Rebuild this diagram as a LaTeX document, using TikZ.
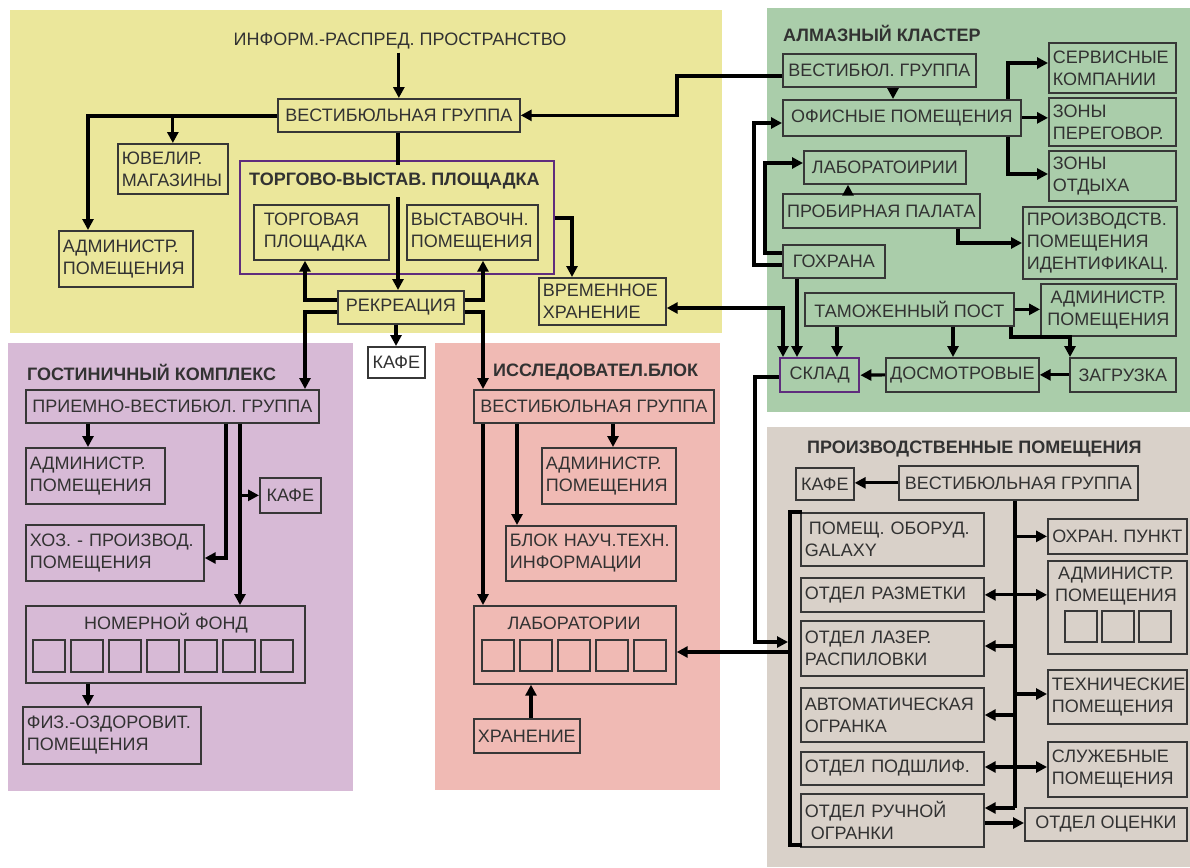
\documentclass[tikz,border=0pt]{standalone}
\usepackage{fontspec}
\setmainfont{Liberation Sans}
\usetikzlibrary{arrows.meta,calc}
\definecolor{ybg}{RGB}{235,231,155}
\definecolor{gbg}{RGB}{170,205,170}
\definecolor{pbg}{RGB}{215,186,214}
\definecolor{rbg}{RGB}{240,186,180}
\definecolor{sbg}{RGB}{217,209,201}
\definecolor{purp}{RGB}{95,45,125}
\definecolor{txt}{RGB}{50,50,50}
\definecolor{boxc}{RGB}{55,55,55}
\newcommand\fs{\fontsize{18}{22}\selectfont}
\newcommand\bx[7][]{%
  \pgfmathsetmacro\bxw{#5-#3}\pgfmathsetmacro\bxh{#6-#4}\pgfmathsetmacro\bxt{#5-#3-8}%
  \node[box,#1,anchor=north west,minimum width=\bxw pt,minimum height=\bxh pt,text width=\bxt pt] (#2) at (#3,#4) {#7};}
\newcommand\bc[7][]{%
  \pgfmathsetmacro\bxw{#5-#3}\pgfmathsetmacro\bxh{#6-#4}%
  \node[box,align=center,#1,inner xsep=1pt,anchor=north west,minimum width=\bxw pt,minimum height=\bxh pt] (#2) at (#3,#4) {#7};}
\tikzset{
  box/.style={draw=boxc,line width=1.7pt,inner xsep=4pt,inner ysep=2pt,font=\fs,text=txt,align=left},
  ttl/.style={font=\bfseries\fs,text=txt,anchor=west,inner sep=0pt},
  arr/.style={line width=3.2pt,black,-{Triangle[length=11pt,width=11pt]}},
  arrb/.style={line width=3.2pt,black,{Triangle[length=11pt,width=11pt]}-{Triangle[length=11pt,width=11pt]}},
  ln/.style={line width=3.2pt,black},
  sq/.style={draw=boxc,line width=1.7pt}
}
\begin{document}
\begin{tikzpicture}[x=1pt,y=-1pt]
\useasboundingbox (0,0) rectangle (1190,867);
\fill[white] (0,0) rectangle (1190,867);
% regions
\fill[ybg] (10,10) rectangle (722,333);
\fill[gbg] (767,8) rectangle (1190,412);
\fill[pbg] (8,343) rectangle (353,791);
\fill[rbg] (435,343) rectangle (720,790);
\fill[sbg] (767,427) rectangle (1190,867);

% ---------- yellow ----------
\node[font=\fs,text=txt] (info) at (400,41) {ИНФОРМ.-РАСПРЕД. ПРОСТРАНСТВО};
\bc{vy}{277}{98}{519}{131}{ВЕСТИБЮЛЬНАЯ ГРУППА}
\bx{yj}{117}{143}{227}{193}{ЮВЕЛИР.\\МАГАЗИНЫ}
\bx{ya}{58}{230}{192}{286}{АДМИНИСТР.\\ПОМЕЩЕНИЯ}
\node[draw=purp,line width=2.4pt,anchor=north west,minimum width=314pt,minimum height=113pt,inner sep=0pt] (tvp) at (239,160) {};
\bx{tp}{253}{204}{388}{259}{\hspace{6pt}ТОРГОВАЯ\\\hspace{6pt}ПЛОЩАДКА}
\bx{vp}{406}{204}{537}{259}{ВЫСТАВОЧН.\\ПОМЕЩЕНИЯ}
\bc{rek}{337}{290}{463}{323}{РЕКРЕАЦИЯ}
\bc{kafe}{367}{346}{424}{377}{КАФЕ}
\bx{vr}{538}{277}{665}{324}{ВРЕМЕННОЕ\\ХРАНЕНИЕ}

% ---------- green ----------
\node[ttl] (gt) at (783,33) {АЛМАЗНЫЙ КЛАСТЕР};
\bc{av}{782}{53}{975}{86}{ВЕСТИБЮЛ. ГРУППА}
\bc{of}{782}{99}{1020}{135}{ОФИСНЫЕ ПОМЕЩЕНИЯ}
\bx{sk}{1048}{42}{1175}{92}{СЕРВИСНЫЕ\\КОМПАНИИ}
\bx{zp}{1048}{97}{1175}{145}{ЗОНЫ\\ПЕРЕГОВОР.}
\bx{zo}{1048}{150}{1175}{200}{ЗОНЫ\\ОТДЫХА}
\bc{la}{803}{150}{965}{183}{ЛАБОРАТОИРИИ}
\bc{pp}{782}{193}{979}{227}{ПРОБИРНАЯ ПАЛАТА}
\bx{pi}{1022}{206}{1176}{278}{ПРОИЗВОДСТВ.\\ПОМЕЩЕНИЯ\\ИДЕНТИФИКАЦ.}
\bc{go}{782}{244}{884}{277}{ГОХРАНА}
\bc{tm}{804}{292}{1013}{325}{ТАМОЖЕННЫЙ ПОСТ}
\bc{ag}{1040}{283}{1175}{335}{АДМИНИСТР.\\ПОМЕЩЕНИЯ}
\bc[draw=purp,line width=2.4pt]{skl}{779}{357}{858}{391}{СКЛАД}
\bc{ds}{885}{357}{1038}{391}{ДОСМОТРОВЫЕ}
\bc{zg}{1069}{357}{1175}{391}{ЗАГРУЗКА}

% ---------- gray ----------
\node[ttl] (st) at (807,449) {ПРОИЗВОДСТВЕННЫЕ ПОМЕЩЕНИЯ};
\bc{gk}{795}{467}{853}{499}{КАФЕ}
\bc{gv}{898}{465}{1137}{499}{ВЕСТИБЮЛЬНАЯ ГРУППА}
\bx{ga}{800}{512}{983}{565}{\hspace{4pt}ПОМЕЩ. ОБОРУД.\\GALAXY}
\bx{gr}{800}{577}{983}{611}{ОТДЕЛ РАЗМЕТКИ}
\bx{gl}{800}{620}{983}{675}{ОТДЕЛ ЛАЗЕР.\\РАСПИЛОВКИ}
\bx{gav}{800}{687}{983}{741}{АВТОМАТИЧЕСКАЯ\\ОГРАНКА}
\bx{gp}{800}{751}{983}{784}{ОТДЕЛ ПОДШЛИФ.}
\bx{gru}{800}{793}{983}{846}{ОТДЕЛ РУЧНОЙ\\\hspace{6pt}ОГРАНКИ}
\bc{gox}{1047}{518}{1186}{553}{ОХРАН. ПУНКТ}
\bx{gad}{1047}{560}{1186}{653}{}
\node[font=\fs,text=txt,align=center] (gadt) at (1116,586) {АДМИНИСТР.\\ПОМЕЩЕНИЯ};
\foreach \i in {0,1,2} \draw[sq] (1065+37*\i,611) rectangle ++(32,31);
\bx{gte}{1047}{669}{1186}{723}{ТЕХНИЧЕСКИЕ\\ПОМЕЩЕНИЯ}
\bx{gsl}{1047}{741}{1186}{796}{СЛУЖЕБНЫЕ\\ПОМЕЩЕНИЯ}
\bc{goc}{1024}{807}{1186}{840}{ОТДЕЛ ОЦЕНКИ}

% ---------- purple ----------
\node[ttl] (ht) at (27,372) {ГОСТИНИЧНЫЙ КОМПЛЕКС};
\bc{gpr}{25}{389}{318}{422}{ПРИЕМНО-ВЕСТИБЮЛ. ГРУППА}
\bx{pa}{25}{447}{164}{503}{АДМИНИСТР.\\ПОМЕЩЕНИЯ}
\bx{hz}{25}{524}{203}{580}{ХОЗ. - ПРОИЗВОД.\\ПОМЕЩЕНИЯ}
\bc{gkf}{259}{477}{320}{512}{КАФЕ}
\bx{nf}{25}{605}{304}{682}{}
\node[font=\fs,text=txt] (nft) at (166,623) {НОМЕРНОЙ ФОНД};
\foreach \i in {0,...,6} \draw[sq] (33+38*\i,640) rectangle ++(32,32);
\bx{fz}{22}{706}{200}{763}{ФИЗ.-ОЗДОРОВИТ.\\ПОМЕЩЕНИЯ}

% ---------- pink ----------
\node[ttl] (rt) at (493,372) {ИССЛЕДОВАТЕЛ.БЛОК};
\bc{pv}{473}{389}{713}{422}{ВЕСТИБЮЛЬНАЯ ГРУППА}
\bx{pad}{541}{447}{675}{503}{АДМИНИСТР.\\ПОМЕЩЕНИЯ}
\bx{bn}{505}{525}{675}{580}{БЛОК НАУЧ.ТЕХН.\\ИНФОРМАЦИИ}
\bx{pl}{473}{605}{675}{683}{}
\node[font=\fs,text=txt] (plt) at (574,623) {ЛАБОРАТОРИИ};
\foreach \i in {0,...,4} \draw[sq] (482+38*\i,640) rectangle ++(32,31);
\bc{hr}{473}{718}{579}{752}{ХРАНЕНИЕ}

% ---------- connectors: yellow ----------
\draw[arr] (vy.north |- info.south) -- (vy.north);
\draw[arr] (vy.west |- 0,116) -| (ya.north -| 88,0);
\draw[arr] (yj.north |- 0,116) -- (yj.north);
\draw[arr] (398,0 |- vy.south) -- (398,0 |- rek.north);
\draw[arr] (rek.west |- 0,300) -| (305,0 |- tp.south);
\draw[arr] (rek.west |- 0,312) -| (305,0 |- gpr.north);
\draw[arr] (rek.east |- 0,300) -| (483,0 |- vp.south);
\draw[arr] (rek.east |- 0,312) -| (483,0 |- pv.north);
\draw[arr] (396,0 |- rek.south) -- (396,0 |- kafe.north);
\draw[arr] (tvp.east |- 0,218) -| (572,0 |- vr.north);
\draw[arrb] (vr.east |- 0,308) -| (783,0 |- skl.north);
\draw[arr] (av.west |- 0,76) -- (677,76) |- (vy.east);
% title over the line
\node[ttl,fill=ybg,inner xsep=2pt,inner ysep=8pt] (tvt) at (247,181) {ТОРГОВО-ВЫСТАВ. ПЛОЩАДКА};

% ---------- connectors: green ----------
\draw[arr] (893,0 |- av.south) -- (893,0 |- of.north);
\draw[arr] (of.east) -- (zp.west |- of.east);
\draw[arr] (1008,0 |- of.north) |- (sk.west |- 0,63);
\draw[arr] (1008,0 |- of.south) |- (zo.west |- 0,174);
\draw[arr] (848,0 |- pp.north) -- (848,0 |- la.south);
\draw[arr] (958,0 |- pp.south) |- (pi.west |- 0,243);
\draw[arr] (go.west |- 0,253) -- (765,253) |- (la.west |- 0,163);
\draw[arr] (go.west |- 0,265) -- (754,265) |- (of.west |- 0,123);
\draw[arr] (797,0 |- go.south) -- (797,0 |- skl.north);
\draw[arr] (tm.east) -- (ag.west |- tm.east);
\draw[arr] (837,0 |- tm.south) -- (837,0 |- skl.north);
\draw[arr] (953,0 |- tm.south) -- (953,0 |- ds.north);
\draw[arr] (1011,0 |- tm.south) |- (1070,337) -- (1070,0 |- zg.north);
\draw[arr] (zg.west) -- (ds.east);
\draw[arr] (ds.west) -- (skl.east);

% bracket and links to production
\draw[ln,line cap=rect] (800,512) -- (790,512) -- (790,845) -- (800,845);
\coordinate (bin) at (788,642);
\coordinate (bout) at (790,652);
\draw[arr] (skl.west |- 0,377) -- (755,377) |- (bin);
\draw[arr] (bout) -- (pl.east |- bout);

% ---------- connectors: gray ----------
\draw[arr] (gv.west) -- (gk.east |- gv.west);
\draw[ln] (1015,0 |- gv.south) -- (1015,808);
\draw[arr] (1015,0 |- gox.west) -- (gox.west);
\draw[arr] (1015,0 |- gr.east) -- (gr.east);
\draw[arr] (1015,0 |- gr.east) -- (gad.west |- gr.east);
\draw[arr] (1015,646) -- (gl.east |- 0,646);
\draw[arr] (1015,694) -- (gte.west |- 0,694);
\draw[arr] (1015,715) -- (gav.east |- 0,715);
\draw[arr] (1015,767) -- (gp.east |- 0,767);
\draw[arr] (1015,767) -- (gsl.west |- 0,767);
\draw[arr] (1015,808) -- (gru.east |- 0,808);
\draw[arr] (gru.east |- 0,823) -- (goc.west |- 0,823);

% ---------- connectors: purple ----------
\draw[arr] (88,0 |- gpr.south) -- (88,0 |- pa.north);
\draw[arr] (226,0 |- gpr.south) |- (hz.east |- 0,558);
\draw[arr] (240,0 |- gpr.south) -- (240,0 |- nf.north);
\draw[arr] (240,0 |- gkf.west) -- (gkf.west);
\draw[arr] (88,0 |- nf.south) -- (88,0 |- fz.north);

% ---------- connectors: pink ----------
\draw[arr] (613,0 |- pv.south) -- (613,0 |- pad.north);
\draw[arr] (517,0 |- pv.south) -- (517,0 |- bn.north);
\draw[arr] (483,0 |- pv.south) -- (483,0 |- pl.north);
\draw[arr] (531,0 |- hr.north) -- (531,0 |- pl.south);
\end{tikzpicture}
\end{document}
